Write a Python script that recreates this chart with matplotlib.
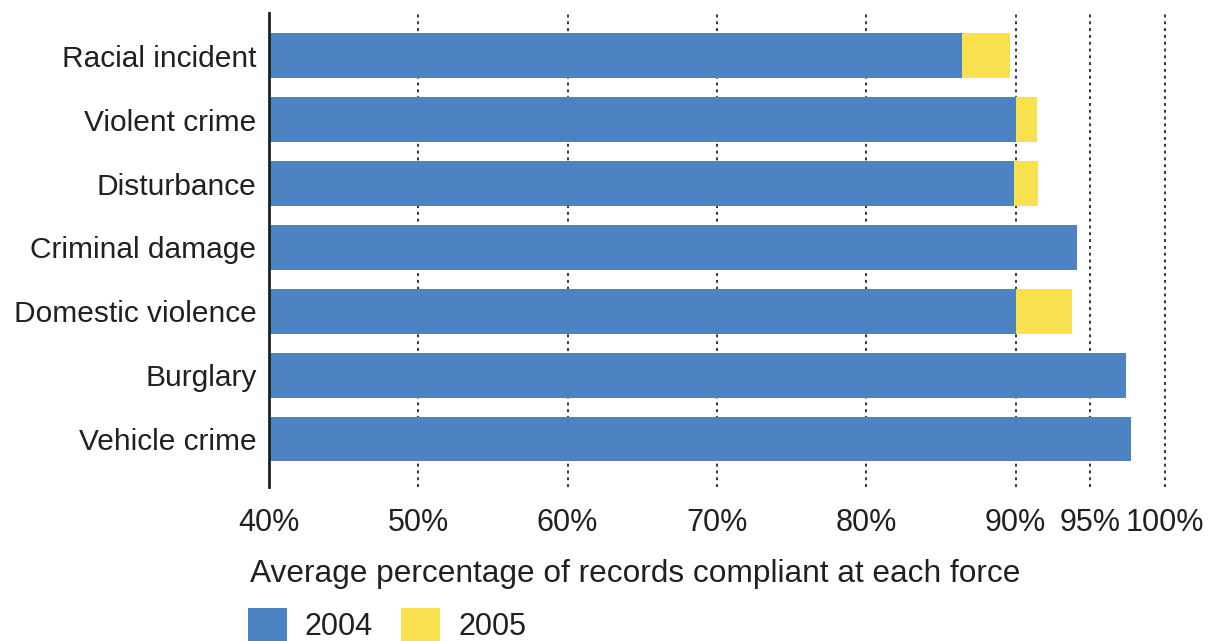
import matplotlib
matplotlib.use("Agg")
import matplotlib.pyplot as plt
from matplotlib.patches import Rectangle

plt.rcParams['font.family'] = ['Liberation Sans', 'DejaVu Sans']

categories = ["Racial incident", "Violent crime", "Disturbance", "Criminal damage",
              "Domestic violence", "Burglary", "Vehicle crime"]
values_2004 = [86.4, 90.0, 89.9, 94.1, 90.0, 97.4, 97.7]
values_2005 = [89.6, 91.4, 91.5, 94.1, 93.8, 97.4, 97.7]
xticks = [40, 50, 60, 70, 80, 90, 95, 100]
xtick_labels = ["40%", "50%", "60%", "70%", "80%", "90%", "95%", "100%"]
series_names = ["2004", "2005"]

BLUE = "#4D82C3"
YELLOW = "#F8E04E"
TEXT = "#231F20"

W, H = 1222, 641
fig = plt.figure(figsize=(W / 100, H / 100), dpi=100)
ax = fig.add_axes([269 / W, 1 - 487 / H, (1165 - 269) / W, (487 - 13) / H])

y = list(range(len(categories)))
ax.barh(y, values_2005, left=0, height=0.7, color=YELLOW, zorder=2)
ax.barh(y, values_2004, left=0, height=0.7, color=BLUE, zorder=3)

ax.set_xlim(40, 100)
ax.set_ylim(6.75, -0.67)
ax.set_xticks(xticks)
ax.set_xticklabels(xtick_labels, fontsize=22, color=TEXT)
ax.set_yticks(y)
ax.set_yticklabels(categories, fontsize=21.5, color=TEXT)
ax.tick_params(axis='x', length=0, pad=15)
ax.tick_params(axis='y', length=0, pad=9)

for xv in xticks[1:]:
    ax.axvline(xv, color="#333333", linestyle=(0, (1.5, 2)), linewidth=1.4,
               zorder=1, clip_on=False)

for s in ["top", "right", "bottom"]:
    ax.spines[s].set_visible(False)
ax.spines["left"].set_color(TEXT)
ax.spines["left"].set_linewidth(2)
ax.spines["left"].set_zorder(5)

fig.text(250 / W, 1 - 574 / H, "Average percentage of records compliant at each force",
         fontsize=22.8, color=TEXT, ha='left', va='center')

# legend
colors = [BLUE, YELLOW]
xs = [248, 401]
for name, c, x0 in zip(series_names, colors, xs):
    fig.add_artist(Rectangle((x0 / W, 1 - 645 / H), 39 / W, 37 / H,
                             transform=fig.transFigure, color=c, lw=0))
    fig.text((x0 + 57) / W, 1 - 627 / H, name, fontsize=22, color=TEXT,
             ha='left', va='center')

fig.savefig("out.png", dpi=100)
